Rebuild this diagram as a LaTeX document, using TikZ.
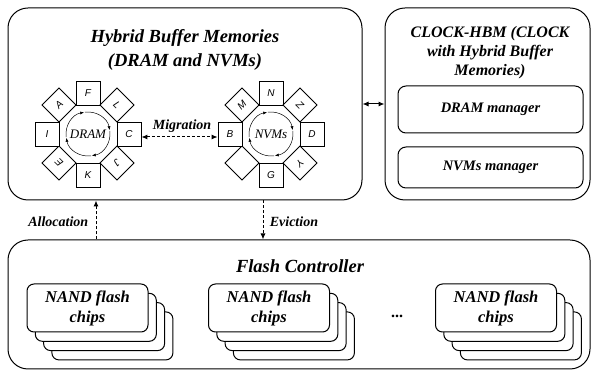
\documentclass[tikz,border=0pt]{standalone}
\usepackage{fontspec}
\setmainfont{Liberation Serif}
\newfontfamily\cellfont{Liberation Sans}
\usetikzlibrary{calc,arrows.meta}

\begin{document}
\begin{tikzpicture}[x=1pt,y=1pt,line width=1pt,
  bigbox/.style={draw,rounded corners=20pt,inner sep=0pt},
  mgrbox/.style={draw,rounded corners=8pt,inner sep=0pt,font=\bfseries\itshape\fontsize{14.5}{17}\selectfont},
  chipbox/.style={draw,fill=white,rounded corners=7pt,inner sep=0pt,minimum width=121pt,minimum height=48pt,align=center,font=\bfseries\itshape\fontsize{16.5}{20}\selectfont},
  cell/.style={draw,fill=white,minimum size=24pt,inner sep=0pt,line width=0.8pt,font=\cellfont\itshape\fontsize{10}{10}\selectfont},
  ringtxt/.style={font=\itshape\fontsize{13}{13}\selectfont},
  bigtitle/.style={align=center,font=\bfseries\itshape\fontsize{18.5}{24}\selectfont},
  arrowlbl/.style={font=\bfseries\itshape\fontsize{14}{16}\selectfont},
  >={Latex[length=6pt,width=5pt]}]
\useasboundingbox (0,0) rectangle (595,372);

% buffer memories
\node[bigbox,minimum width=354pt,minimum height=192pt] (hbm) at (185,268) {};
\node[bigtitle] (hbmtitle) at (185,322) {Hybrid Buffer Memories\\(DRAM and NVMs)};

% DRAM ring
\node[ringtxt] (dram) at (88,238) {DRAM};
\node[cell] (dF) at ($(dram)+(90:41)$) {F};
\node[cell,rotate=-45] (dL) at ($(dram)+(45:41)$) {L};
\node[cell] (dC) at ($(dram)+(0:41)$) {C};
\node[cell,rotate=-135] (dJ) at ($(dram)+(-45:41)$) {J};
\node[cell] (dK) at ($(dram)+(-90:41)$) {K};
\node[cell,rotate=135] (dE) at ($(dram)+(-135:41)$) {E};
\node[cell] (dI) at ($(dram)+(180:41)$) {I};
\node[cell,rotate=45] (dA) at ($(dram)+(135:41)$) {A};
\foreach \a in {0,90,180,270}
  \draw[line width=0.5pt,-{Latex[length=4pt,width=3pt]}] ($(dram)+(\a+188:22)$) arc[start angle=\a+188,end angle=\a+100,radius=22pt];

% NVM ring
\node[ringtxt] (nvm) at (271,238) {NVMs};
\node[cell] (nN) at ($(nvm)+(90:41)$) {N};
\node[cell,rotate=-45] (nZ) at ($(nvm)+(45:41)$) {Z};
\node[cell] (nD) at ($(nvm)+(0:41)$) {D};
\node[cell,rotate=-135] (nY) at ($(nvm)+(-45:41)$) {Y};
\node[cell] (nG) at ($(nvm)+(-90:41)$) {G};
\node[cell,rotate=135] (nX) at ($(nvm)+(-135:41)$) {};
\node[cell] (nB) at ($(nvm)+(180:41)$) {B};
\node[cell,rotate=45] (nM) at ($(nvm)+(135:41)$) {M};
\foreach \a in {0,90,180,270}
  \draw[line width=0.5pt,-{Latex[length=4pt,width=3pt]}] ($(nvm)+(\a+188:22)$) arc[start angle=\a+188,end angle=\a+100,radius=22pt];

\draw[<->,densely dashed] ([yshift=-3pt]dC.east) -- ([yshift=-3pt]nB.west);
\node[arrowlbl] (mig) at (182,246) {Migration};

% clock-hbm
\node[bigbox,minimum width=205pt,minimum height=192pt] (clock) at (487.5,268) {};
\node[bigtitle,font=\bfseries\itshape\fontsize{16}{19}\selectfont] (clocktitle) at (490,319) {CLOCK-HBM (CLOCK\\with Hybrid Buffer\\Memories)};
\node[mgrbox,minimum width=185pt,minimum height=47pt] (dmgr) at (490.5,262.5) {DRAM manager};
\node[mgrbox,minimum width=185pt,minimum height=41pt] (nmgr) at (490.5,204.5) {NVMs manager};
\draw[<->] (hbm.east) -- (clock.west);

% flash controller
\node[bigbox,minimum width=582pt,minimum height=129pt] (flash) at (299,67.5) {};
\node[bigtitle] (flashtitle) at (300,106) {Flash Controller};

\node[chipbox] (c1c) at (87.5+24.9,64-27.9) {};
\node[chipbox] (c1b) at (87.5+16.6,64-18.6) {};
\node[chipbox] (c1a) at (87.5+8.3,64-9.3) {};
\node[chipbox] (chip1) at (87.5,64) {NAND flash\\chips};

\node[chipbox] (c2c) at (269+24.9,64-27.9) {};
\node[chipbox] (c2b) at (269+16.6,64-18.6) {};
\node[chipbox] (c2a) at (269+8.3,64-9.3) {};
\node[chipbox] (chip2) at (269,64) {NAND flash\\chips};

\node[chipbox] (c3c) at (496+24.9,64-27.9) {};
\node[chipbox] (c3b) at (496+16.6,64-18.6) {};
\node[chipbox] (c3a) at (496+8.3,64-9.3) {};
\node[chipbox] (chip3) at (496,64) {NAND flash\\chips};

\node[font=\bfseries\fontsize{16}{16}\selectfont] (dots) at (397,56) {...};

% allocation / eviction
\coordinate (alloc) at (96,150);
\coordinate (evict) at (263,150);
\draw[->,densely dashed] (alloc |- flash.north) -- (alloc |- hbm.south);
\draw[->,densely dashed] (evict |- hbm.south) -- (evict |- flash.north);
\node[arrowlbl,anchor=east] (alloclbl) at (92,150) {Allocation};
\node[arrowlbl,anchor=west] (evictlbl) at (266,150) {Eviction};
\end{tikzpicture}
\end{document}
